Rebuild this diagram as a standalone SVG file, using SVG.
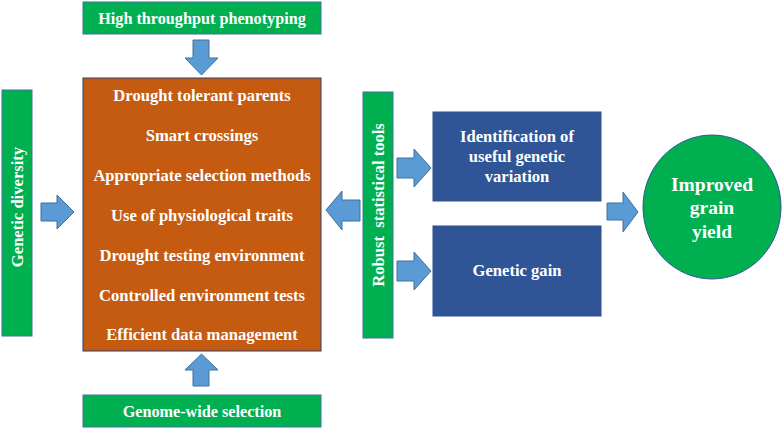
<svg xmlns="http://www.w3.org/2000/svg" width="784" height="429" viewBox="0 0 784 429">
<style>
.g{fill:#00B050;stroke:#41719C;stroke-width:1}
.o{fill:#C55A11;stroke:#2F3F6F;stroke-width:1}
.b{fill:#2F5597;stroke:#2F4F8F;stroke-width:1}
.a{fill:#5B9BD5;stroke:#41719C;stroke-width:1}
text{font-family:"Liberation Serif","Times New Roman",serif;font-weight:bold;fill:#FFFFFF;text-anchor:middle}
.t{font-size:16.6px}
.h{font-size:16.2px}
.c{font-size:19.5px}
</style>
<rect width="784" height="429" fill="#FFFFFF"/>
<g id="connectors">
<polygon class="a" points="193,40 209,40 209,58 218,58 201.5,75 185,58 193,58"/>
<polygon class="a" points="193,386 209,386 209,370 218,370 201.5,354 185,370 193,370"/>
<polygon class="a" points="41,203 57,203 57,195 74,212 57,229 57,221 41,221"/>
<polygon class="a" points="360,200 342,200 342,191 326,210 342,230 342,221 360,221"/>
<polygon class="a" points="397,158 414,158 414,149 431,168 414,187 414,178 397,178"/>
<polygon class="a" points="397,261 414,261 414,252 431,271 414,290 414,281 397,281"/>
<polygon class="a" points="607,203 623,203 623,192 638,212 623,232 623,220 607,220"/>
</g>
<g id="high-throughput">
<rect class="g" x="83" y="2" width="238" height="32"/>
<text class="h" x="202" y="24">High throughput phenotyping</text>
</g>
<g id="genome-wide">
<rect class="g" x="83" y="395" width="238" height="32"/>
<text class="h" x="202" y="417">Genome-wide selection</text>
</g>
<g id="genetic-diversity">
<rect class="g" x="2" y="90" width="30" height="246"/>
<text class="t" transform="translate(23,207) rotate(-90)">Genetic diversity</text>
</g>
<g id="robust-tools">
<rect class="g" x="363" y="92" width="30" height="246"/>
<text class="t" transform="translate(384,205) rotate(-90)" xml:space="preserve">Robust  statistical tools</text>
</g>
<g id="center-box">
<rect class="o" x="83" y="78" width="238" height="273"/>
<text class="t" x="202" y="101">Drought tolerant parents</text>
<text class="t" x="202" y="141">Smart crossings</text>
<text class="t" x="202" y="181">Appropriate selection methods</text>
<text class="t" x="202" y="221">Use of physiological traits</text>
<text class="t" x="202" y="261">Drought testing environment</text>
<text class="t" x="202" y="301">Controlled environment tests</text>
<text class="t" x="202" y="340">Efficient data management</text>
</g>
<g id="identification">
<rect class="b" x="433" y="112" width="168" height="89"/>
<text class="t" x="517" y="142">Identification of</text>
<text class="t" x="517" y="162">useful genetic</text>
<text class="t" x="517" y="182">variation</text>
</g>
<g id="genetic-gain">
<rect class="b" x="433" y="226" width="168" height="90"/>
<text class="t" x="517" y="276">Genetic gain</text>
</g>
<g id="improved-yield">
<ellipse cx="712" cy="207" rx="69" ry="72" fill="#00B050" stroke="#2F5597" stroke-width="1"/>
<text class="c" x="712" y="191">Improved</text>
<text class="c" x="712" y="214">grain</text>
<text class="c" x="712" y="238">yield</text>
</g>
</svg>
